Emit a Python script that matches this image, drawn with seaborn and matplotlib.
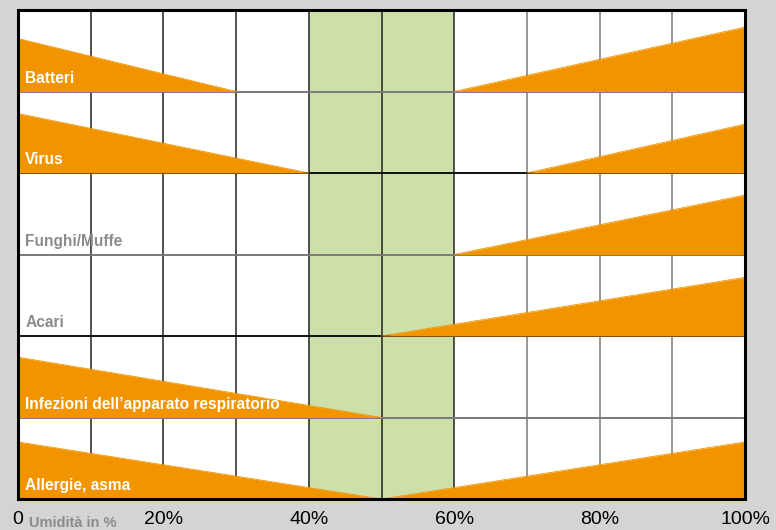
import numpy as np
import pandas as pd
import matplotlib.pyplot as plt
import seaborn as sns

# rows from top to bottom
rows = ["Batteri", "Virus", "Funghi/Muffe", "Acari",
        "Infezioni dell\u2019apparato respiratorio", "Allergie, asma"]
label_colors = ["white", "white", "#8c8c8c", "#8c8c8c", "white", "white"]

# left wedge: full height at 0 %, down to zero at left_end (%)
left_end = [30, 40, None, None, 50, 50]
left_h = [0.65, 0.73, 0, 0, 0.74, 0.70]
# right wedge: zero at right_start (%), full height at 100 %
right_start = [60, 70, 60, 50, None, 50]
right_h = [0.79, 0.60, 0.73, 0.72, 0, 0.70]

ideal_lo, ideal_hi = 40, 60
tick_pos = [0, 20, 40, 60, 80, 100]
tick_labels = ["0", "20%", "40%", "60%", "80%", "100%"]

sns.set_theme(style="white")
plt.rcParams["font.family"] = ["Liberation Sans", "DejaVu Sans"]

orange = "#f29400"
green = "#cde0a9"
bg = "#d4d4d4"

# long table of wedge outlines
recs = []
n = len(rows)
for i, name in enumerate(rows):
    base = n - 1 - i
    if left_end[i] is not None:
        recs += [dict(wedge=f"{i}L", row=name, x=0, y=base + left_h[i]),
                 dict(wedge=f"{i}L", row=name, x=left_end[i], y=base)]
    if right_start[i] is not None:
        recs += [dict(wedge=f"{i}R", row=name, x=right_start[i], y=base),
                 dict(wedge=f"{i}R", row=name, x=100, y=base + right_h[i])]
wedges = pd.DataFrame(recs)

fig = plt.figure(figsize=(7.76, 5.30), dpi=100, facecolor=bg)
ax = fig.add_axes([18 / 776, 1 - 499 / 530, 727 / 776, 489 / 530])
ax.set_facecolor("white")

ax.axvspan(ideal_lo, ideal_hi, color=green, zorder=0, lw=0)

# grid
for x in range(10, 100, 10):
    c = "#222222" if x <= 60 else "#7a7a7a"
    ax.axvline(x, color=c, lw=1.1, zorder=1)
for y in range(1, n):
    c = "#7a7a7a" if y % 2 == 1 else "#111111"
    ax.axhline(y, color=c, lw=1.4, zorder=1)

# wedges
for w, g in wedges.groupby("wedge"):
    base = np.floor(g["y"].min())
    ax.fill_between(g["x"].to_numpy(), g["y"].to_numpy(), base,
                    color=orange, lw=0, zorder=2)
sns.lineplot(data=wedges, x="x", y="y", units="wedge", estimator=None,
             color=orange, lw=0.6, ax=ax, zorder=2, legend=False)

for i, name in enumerate(rows):
    base = n - 1 - i
    ax.text(1.0, base + 0.11, name, color=label_colors[i], fontsize=11.2,
            fontweight="bold", ha="left", va="baseline", zorder=3)

ax.set_xlim(0, 100)
ax.set_ylim(0, n)
ax.set_xticks(tick_pos)
ax.set_xticklabels(tick_labels, fontsize=14, color="black")
ax.set_yticks([])
ax.set_xlabel("")
ax.set_ylabel("")
ax.tick_params(axis="x", length=0, pad=9)
for s in ax.spines.values():
    s.set_visible(True)
    s.set_color("black")
    s.set_linewidth(2.2)
    s.set_zorder(4)

fig.text(29 / 776, 1 - 527 / 530, "Umidit\u00e0 in %", color="#8c8c8c",
         fontsize=10.5, fontweight="bold", ha="left", va="baseline")

fig.savefig("out.png", dpi=100, facecolor=bg)
